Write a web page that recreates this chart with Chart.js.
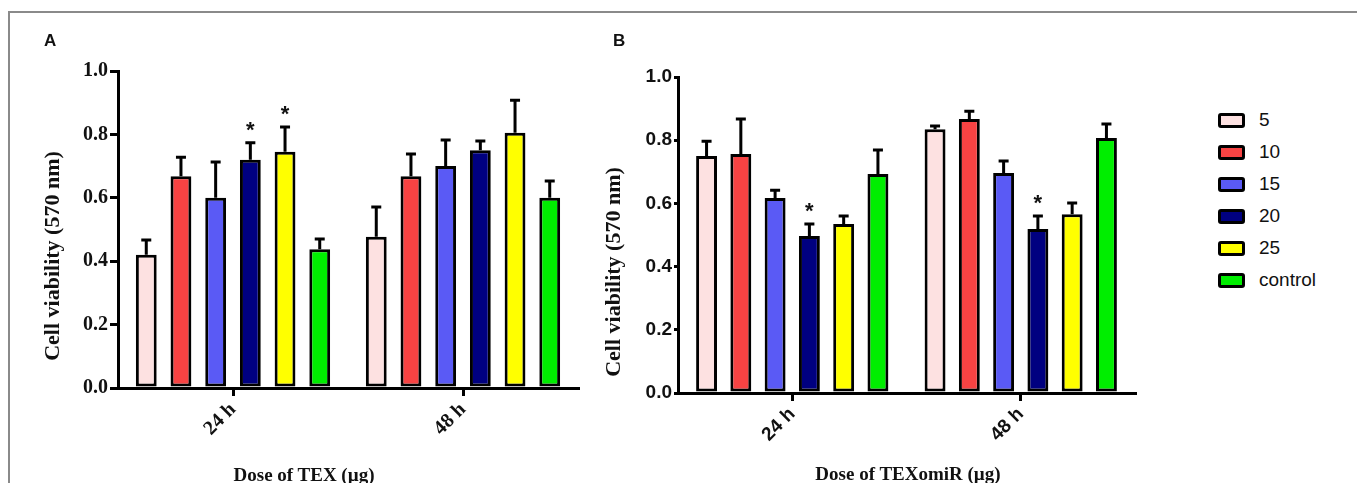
<!DOCTYPE html>
<html>
<head>
  <title>Cell viability</title>
  <script src="https://cdn.jsdelivr.net/npm/chart.js"></script>
  <style>
    body { margin: 0; background: #fff; overflow: hidden; }
    #fig { position: relative; width: 1357px; height: 483px; }
    .frame {
      position: absolute; left: 8px; top: 11px; width: 1360px; height: 480px;
      border-top: 2px solid #8a8a8a; border-left: 2px solid #8a8a8a;
    }
    canvas { position: absolute; top: 0; }
    .panel { position: absolute; top: 31px; font: bold 17px "Liberation Sans", Arial, sans-serif; color: #111; }
    .title {
      position: absolute; white-space: nowrap; color: #111;
      font: bold 22px "Liberation Serif", "Times New Roman", serif;
      transform: translate(-50%, -50%);
    }
    .title.rot { transform: translate(-50%, -50%) rotate(-90deg); }
    #legend { position: absolute; left: 1218px; top: 104px; font: 19px "Liberation Sans", Arial, sans-serif; color: #111; }
    #legend div { height: 32px; display: flex; align-items: center; }
    #legend span.box {
      display: inline-block; width: 21px; height: 9px; border: 3px solid #000;
      border-radius: 3px; margin-right: 14px;
    }
  </style>
</head>
<body>
<div id="fig">
  <div class="frame"></div>
  <canvas id="chartA" width="600" height="483" style="left:0"></canvas>
  <canvas id="chartB" width="560" height="483" style="left:600px"></canvas>
  <div class="panel" style="left:44px">A</div>
  <div class="panel" style="left:613px">B</div>
  <div class="title rot" style="left:52px; top:256px">Cell viability (570 nm)</div>
  <div class="title" style="left:304px; top:475px; font-size:19px">Dose of TEX (µg)</div>
  <div class="title rot" style="left:613px; top:272px">Cell viability (570 nm)</div>
  <div class="title" style="left:908px; top:474px; font-size:19px">Dose of TEXomiR (µg)</div>
  <div id="legend"></div>
</div>

<script>
  const groups = ['24 h', '48 h'];
  const doses = ['5', '10', '15', '20', '25', 'control'];

  // panel A: TEX, one value per dose
  const texMean24 = [0.42, 0.668, 0.60, 0.72, 0.745, 0.438];
  const texErr24 = [0.047, 0.06, 0.113, 0.054, 0.078, 0.032];
  const texMean48 = [0.477, 0.668, 0.70, 0.75, 0.805, 0.60];
  const texErr48 = [0.094, 0.07, 0.082, 0.029, 0.103, 0.053];
  const texStars = [['24 h', '20'], ['24 h', '25']];

  // panel B: TEXomiR
  const omiMean24 = [0.75, 0.756, 0.617, 0.497, 0.535, 0.693];
  const omiErr24 = [0.047, 0.111, 0.025, 0.038, 0.025, 0.076];
  const omiMean48 = [0.835, 0.867, 0.696, 0.519, 0.566, 0.807];
  const omiErr48 = [0.01, 0.025, 0.038, 0.041, 0.035, 0.044];
  const omiStars = [['24 h', '20'], ['48 h', '20']];

  const yTicks = ['0.0', '0.2', '0.4', '0.6', '0.8', '1.0'];

  const colors = ['#fde1e1', '#f74343', '#5a5af5', '#000080', '#ffff00', '#00ee00'];

  const errorBars = {
    id: 'errorBars',
    afterDatasetsDraw(chart) {
      const ctx = chart.ctx;
      const y = chart.scales.y;
      ctx.save();
      ctx.strokeStyle = '#000';
      ctx.lineWidth = 3;
      chart.data.datasets.forEach((ds, i) => {
        chart.getDatasetMeta(i).data.forEach((bar, j) => {
          const top = y.getPixelForValue(ds.data[j] + ds.errors[j]);
          ctx.beginPath();
          ctx.moveTo(bar.x, bar.y);
          ctx.lineTo(bar.x, top);
          ctx.moveTo(bar.x - 5, top);
          ctx.lineTo(bar.x + 5, top);
          ctx.stroke();
        });
      });
      ctx.restore();
    }
  };

  const starMarks = {
    id: 'starMarks',
    afterDatasetsDraw(chart, args, opts) {
      const ctx = chart.ctx;
      const y = chart.scales.y;
      ctx.save();
      ctx.fillStyle = '#111';
      ctx.font = 'bold 22px "Liberation Sans", Arial, sans-serif';
      ctx.textAlign = 'center';
      ctx.textBaseline = 'alphabetic';
      (opts.marks || []).forEach(([g, d]) => {
        const i = doses.indexOf(d), j = groups.indexOf(g);
        const ds = chart.data.datasets[i];
        const bar = chart.getDatasetMeta(i).data[j];
        const top = y.getPixelForValue(ds.data[j] + ds.errors[j]);
        ctx.fillText('*', bar.x, top - 6);
      });
      ctx.restore();
    }
  };

  function makeDatasets(mean24, err24, mean48, err48) {
    return doses.map((d, i) => ({
      label: d,
      data: [mean24[i], mean48[i]],
      errors: [err24[i], err48[i]],
      backgroundColor: colors[i],
      borderColor: '#000',
      borderWidth: 3,
      borderSkipped: false
    }));
  }

  function makeChart(id, datasets, stars, o) {
    return new Chart(document.getElementById(id), {
      type: 'bar',
      data: { labels: groups, datasets: datasets },
      plugins: [errorBars, starMarks],
      options: {
        responsive: false,
        animation: false,
        events: [],
        layout: { padding: { top: o.top, right: o.right, bottom: 0, left: 0 } },
        datasets: { bar: { categoryPercentage: o.cat, barPercentage: o.bar } },
        plugins: {
          legend: { display: false },
          tooltip: { enabled: false },
          starMarks: { marks: stars }
        },
        scales: {
          x: {
            grid: { offset: false, drawOnChartArea: false, drawTicks: true, tickLength: 8, lineWidth: 3, color: '#000' },
            border: { color: '#000', width: 3 },
            ticks: { minRotation: 45, maxRotation: 45, color: '#111', padding: 2, font: o.xFont },
            afterFit: s => { s.height = o.xHeight; }
          },
          y: {
            min: 0, max: 1,
            grid: { drawOnChartArea: false, drawTicks: true, tickLength: o.tick, lineWidth: 3, color: '#000' },
            border: { color: '#000', width: 3 },
            ticks: {
              stepSize: 0.2, color: '#111', padding: 2, font: o.yFont,
              callback: (v, i) => yTicks[i]
            },
            afterFit: s => { s.width = o.yWidth; }
          }
        }
      }
    });
  }

  const serif = { family: '"Liberation Serif", "Times New Roman", serif', weight: 'bold', size: 20 };
  const narrow = { family: '"Liberation Sans Narrow", "Arial Narrow", "Liberation Sans", sans-serif', weight: 'bold', size: 19 };

  makeChart('chartA', makeDatasets(texMean24, texErr24, texMean48, texErr48), texStars,
    { top: 71, right: 22, xHeight: 95, yWidth: 118, cat: 0.905, bar: 0.6, tick: 8, xFont: serif, yFont: serif });

  makeChart('chartB', makeDatasets(omiMean24, omiErr24, omiMean48, omiErr48), omiStars,
    { top: 77, right: 25, xHeight: 90, yWidth: 78, cat: 0.9, bar: 0.61, tick: 4, xFont: narrow, yFont: narrow });

  const legend = document.getElementById('legend');
  doses.forEach((d, i) => {
    const row = document.createElement('div');
    row.innerHTML = '<span class="box" style="background:' + colors[i] + '"></span>' + d;
    legend.appendChild(row);
  });
</script>
</body>
</html>
